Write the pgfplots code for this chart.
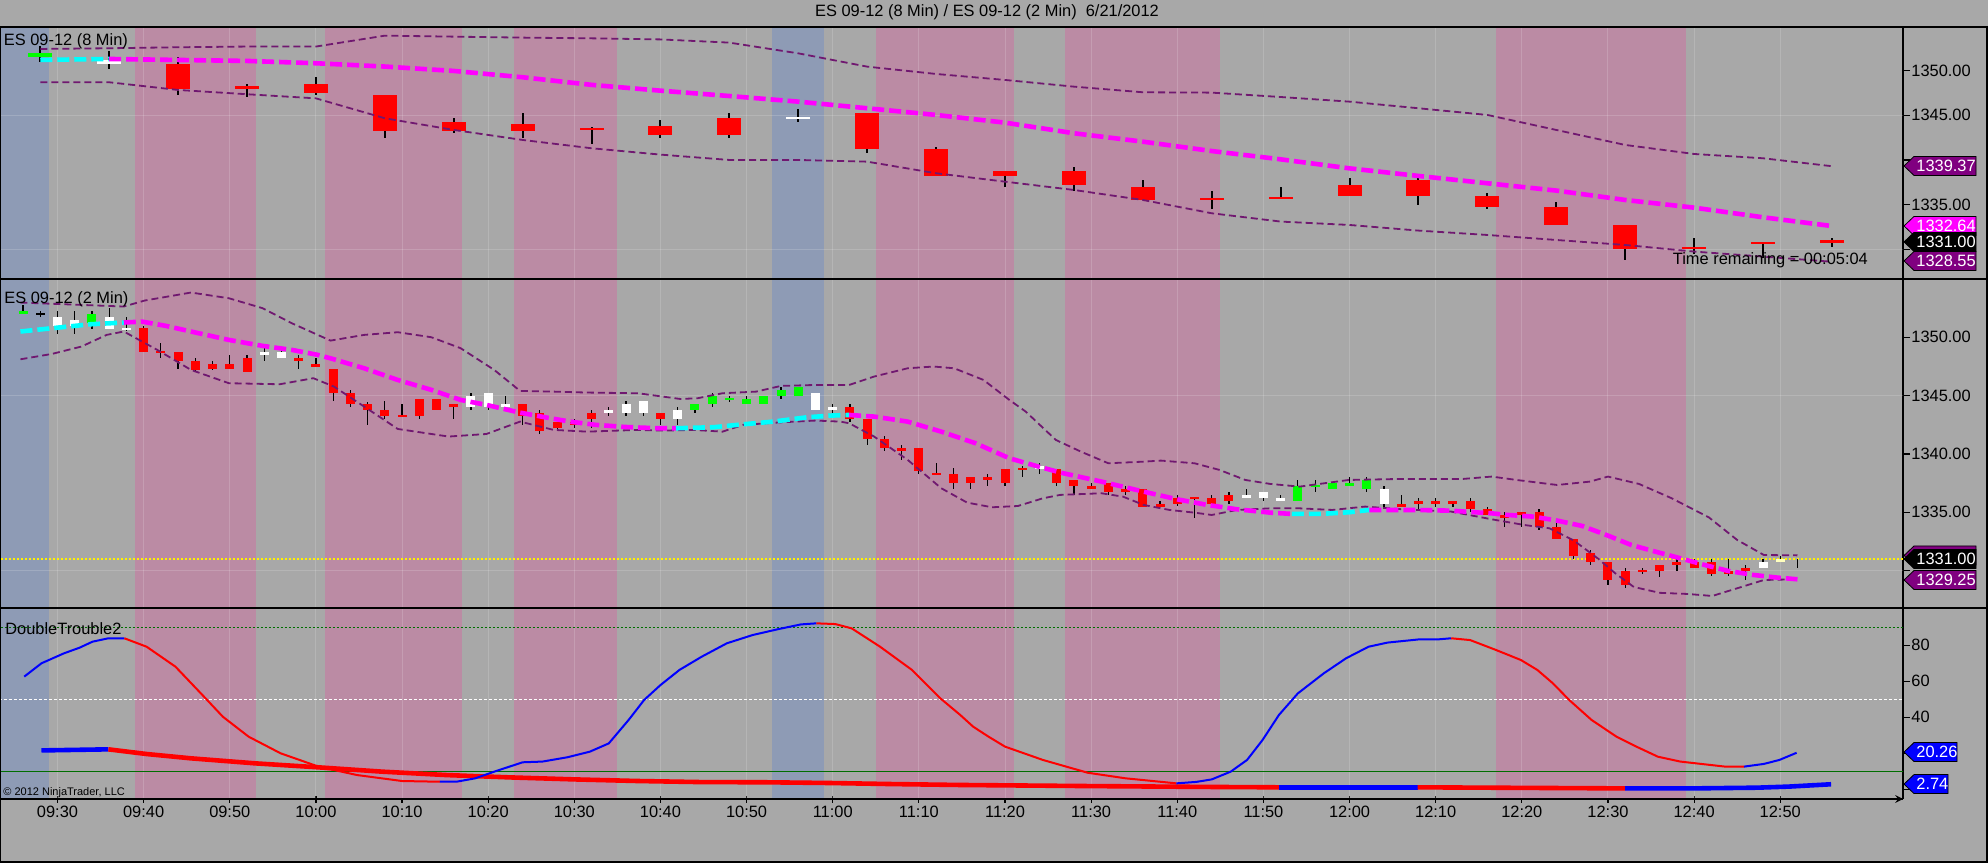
\documentclass[border=0pt]{standalone}
\usepackage{fontspec}
\setmainfont{Liberation Sans}
\usepackage{pgfplots}
\pgfplotsset{compat=1.18}
\usepackage{pgfplotstable}

\definecolor{bg}{RGB}{168,168,168}
\definecolor{pinkb}{RGB}{187,139,164}
\definecolor{blueb}{RGB}{142,155,181}
\definecolor{purp}{RGB}{112,24,112}
\definecolor{fpurple}{RGB}{128,0,128}
\definecolor{mag}{RGB}{255,0,255}
\definecolor{cya}{RGB}{0,255,255}
\definecolor{grn}{RGB}{0,255,0}
\definecolor{dgreen}{RGB}{0,110,0}
\definecolor{ylw}{RGB}{255,255,190}

\newcommand\lab{\fontsize{8.2pt}{9pt}\selectfont}

% ---------- 8-min candles (top panel): m open high low close ----------
\pgfplotstableread{
m o h l c
14 1350.75 1351.5 1347.25 1348.0
22 1348.25 1348.5 1347.0 1348.0
30 1348.5 1349.25 1347.25 1347.5
38 1347.25 1347.25 1342.5 1343.25
46 1344.25 1344.75 1343.0 1343.25
54 1344.0 1345.25 1342.5 1343.25
62 1343.5 1343.75 1341.75 1343.5
70 1343.75 1344.5 1342.5 1342.75
78 1344.75 1345.25 1342.5 1342.75
94 1345.25 1345.25 1340.75 1341.25
102 1341.25 1341.5 1338.25 1338.25
110 1338.75 1338.75 1337.0 1338.25
118 1338.75 1339.25 1336.5 1337.25
126 1337.0 1337.75 1335.5 1335.5
134 1335.75 1336.5 1334.5 1335.5
142 1335.75 1337.0 1335.75 1335.75
150 1337.25 1338.0 1336.0 1336.0
158 1337.75 1338.0 1335.0 1336.0
166 1336.0 1336.25 1334.5 1334.75
174 1334.75 1335.25 1332.75 1332.75
182 1332.75 1332.75 1328.75 1330.0
190 1330.25 1331.25 1329.5 1330.0
198 1330.75 1330.75 1329.0 1330.75
206 1331.0 1331.25 1330.25 1330.75
}\topred
\pgfplotstableread{
m o h l c
6 1350.75 1352.25 1350.25 1351.25
86 1344.75 1345.75 1344.25 1344.75
}\topwhite
\pgfplotstableread{
m o h l c
-2 1351.5 1352.75 1351.0 1352.0
}\topgreen

% ---------- 2-min candles (middle panel) ----------
\pgfplotstableread{
m o h l c
10 1350.75 1351.0 1348.75 1348.75
12 1348.75 1349.5 1348.25 1348.75
14 1348.75 1348.75 1347.25 1348.0
16 1348.0 1348.25 1347.0 1347.25
18 1347.75 1348.0 1347.25 1347.25
20 1347.75 1348.5 1347.25 1347.25
22 1348.25 1348.5 1347.0 1347.0
28 1348.25 1348.5 1347.25 1348.0
30 1347.75 1348.25 1347.5 1347.5
32 1347.25 1347.25 1344.5 1345.25
34 1345.25 1345.5 1344.0 1344.25
36 1344.25 1344.5 1342.5 1343.75
38 1343.75 1344.5 1343.0 1343.25
40 1343.25 1344.25 1343.25 1343.25
42 1344.75 1344.75 1343.0 1343.25
44 1344.75 1344.75 1343.75 1343.75
46 1344.25 1344.25 1343.0 1344.0
54 1344.25 1344.25 1342.5 1343.25
56 1343.5 1343.75 1341.75 1342.0
58 1342.75 1342.75 1342.0 1342.25
60 1342.75 1343.0 1342.25 1342.5
62 1343.5 1343.75 1342.25 1343.0
70 1343.5 1343.5 1342.5 1343.0
92 1344.0 1344.25 1342.75 1343.0
94 1343.0 1343.0 1340.75 1341.25
96 1341.25 1341.5 1340.25 1340.5
98 1340.5 1340.75 1339.5 1340.25
100 1340.5 1340.5 1338.25 1338.5
102 1338.25 1339.25 1338.25 1338.25
104 1338.25 1338.75 1337.0 1337.5
106 1338.0 1338.0 1337.0 1337.5
108 1338.0 1338.25 1337.25 1337.75
110 1338.75 1338.75 1337.25 1337.5
112 1338.75 1339.0 1338.0 1338.75
116 1338.75 1338.75 1337.25 1337.5
118 1337.75 1337.75 1336.5 1337.25
120 1337.25 1337.5 1337.0 1337.0
122 1337.5 1337.5 1336.5 1336.75
124 1337.0 1337.25 1336.5 1336.75
126 1337.0 1337.0 1335.5 1335.5
128 1335.75 1336.0 1335.5 1335.5
130 1336.25 1336.5 1335.5 1335.75
132 1336.25 1336.25 1334.5 1336.25
134 1336.25 1336.5 1335.5 1335.75
136 1336.5 1336.75 1335.75 1336.0
156 1335.75 1336.5 1335.5 1335.5
158 1336.0 1336.25 1335.25 1335.75
160 1336.0 1336.25 1335.5 1335.75
162 1336.0 1336.0 1335.5 1335.75
164 1336.0 1336.25 1335.0 1335.25
166 1335.25 1335.5 1334.75 1334.75
168 1334.75 1335.0 1333.75 1334.5
170 1335.0 1335.0 1333.75 1334.75
172 1335.0 1335.25 1333.5 1333.75
174 1333.75 1334.25 1332.75 1332.75
176 1332.75 1332.75 1331.0 1331.25
178 1331.5 1331.75 1330.5 1330.75
180 1330.75 1330.75 1328.75 1329.25
182 1330.0 1330.25 1328.5 1328.75
184 1330.0 1330.25 1329.75 1330.0
186 1330.5 1330.5 1329.5 1330.0
188 1330.75 1331.25 1330.0 1330.5
190 1330.75 1331.0 1330.25 1330.25
192 1330.75 1331.0 1329.5 1329.75
194 1330.0 1331.0 1329.5 1329.75
196 1330.25 1330.5 1329.25 1330.0
}\midred
\pgfplotstableread{
m o h l c
0 1351.0 1352.25 1350.25 1351.75
2 1351.0 1352.25 1350.25 1351.5
6 1350.75 1352.5 1350.75 1351.75
8 1350.75 1351.75 1350.5 1350.75
24 1348.5 1349.25 1348.0 1348.75
26 1348.25 1349.25 1348.25 1348.75
48 1344.0 1345.25 1343.75 1345.0
50 1344.0 1345.25 1343.75 1345.25
52 1344.0 1345.0 1343.75 1344.25
64 1343.5 1344.0 1343.25 1343.75
66 1343.5 1344.5 1343.25 1344.25
68 1343.5 1344.5 1343.25 1344.5
72 1343.0 1344.0 1342.5 1343.75
88 1343.75 1345.25 1343.75 1345.25
90 1343.75 1344.25 1343.5 1344.0
114 1338.75 1339.25 1338.25 1339.0
138 1336.25 1337.0 1336.25 1336.5
140 1336.25 1336.75 1336.0 1336.75
142 1336.0 1336.5 1336.0 1336.25
154 1335.75 1337.25 1335.5 1337.0
198 1330.25 1331.0 1330.25 1330.75
}\midwhite
\pgfplotstableread{
m o h l c
-4 1352.0 1352.75 1352.0 1352.25
4 1351.25 1352.25 1350.75 1352.0
74 1343.75 1344.25 1343.5 1344.25
76 1344.25 1345.25 1344.0 1345.0
78 1344.75 1345.0 1344.5 1344.75
80 1344.25 1345.0 1344.25 1344.75
82 1344.25 1345.0 1344.25 1345.0
84 1345.0 1345.75 1344.75 1345.5
86 1345.0 1345.75 1345.0 1345.75
144 1336.0 1337.75 1336.0 1337.25
146 1337.25 1337.75 1336.75 1337.25
148 1337.0 1337.5 1337.0 1337.5
150 1337.25 1338.0 1337.25 1337.5
152 1337.0 1338.0 1336.75 1337.75
}\midgreen
\pgfplotstableread{
m o h l c
200 1330.75 1331.25 1330.75 1331.0
}\midyellow
\pgfplotstableread{
m o h l c
-2 1352.0 1352.25 1351.75 1352.0
}\midblack

% candles: table, body colour, body width, wick width, minimum body
\newcommand\candles[5]{%
 \addplot[draw=none, mark=none, forget plot,
   error bars/.cd, y dir=both, y explicit, error mark=none,
   error bar style={line width=#4, draw=black}]
   table[x=m, y expr={(\thisrow{h}+\thisrow{l})/2}, y error expr={(\thisrow{h}-\thisrow{l})/2}] {#1};
 \addplot[draw=none, mark=none, forget plot,
   error bars/.cd, y dir=both, y explicit, error mark=none,
   error bar style={line width=#3, draw=#2}]
   table[x=m, y expr={(\thisrow{o}+\thisrow{c})/2}, y error expr={max(abs(\thisrow{c}-\thisrow{o}),#5)/2}] {#1};
}
% session bands and vertical grid
\newcommand\bands[2]{%
 \addplot[fill=blueb, draw=none, forget plot] coordinates {(-8,#1) (-8,#2) (-1,#2) (-1,#1)};
 \addplot[fill=pinkb, draw=none, forget plot] coordinates {(9,#1) (9,#2) (23,#2) (23,#1)};
 \addplot[fill=pinkb, draw=none, forget plot] coordinates {(31,#1) (31,#2) (47,#2) (47,#1)};
 \addplot[fill=pinkb, draw=none, forget plot] coordinates {(53,#1) (53,#2) (65,#2) (65,#1)};
 \addplot[fill=blueb, draw=none, forget plot] coordinates {(83,#1) (83,#2) (89,#2) (89,#1)};
 \addplot[fill=pinkb, draw=none, forget plot] coordinates {(95,#1) (95,#2) (111,#2) (111,#1)};
 \addplot[fill=pinkb, draw=none, forget plot] coordinates {(117,#1) (117,#2) (135,#2) (135,#1)};
 \addplot[fill=pinkb, draw=none, forget plot] coordinates {(167,#1) (167,#2) (189,#2) (189,#1)};
 \pgfplotsinvokeforeach{0,10,...,200}{\addplot[draw=white, draw opacity=0.16, line width=0.5pt, forget plot] coordinates {(##1,#1) (##1,#2)};}
}

\pgfplotsset{
 panel/.style={
  scale only axis, width=951.5pt, anchor=south west,
  xmin=-6.675, xmax=214.25,
  axis y line=right,
  axis line style={-, black, line width=0.7pt},
  x axis line style={-}, y axis line style={-},
  tick align=outside, major tick length=3.5pt,
  tick style={black, line width=0.6pt},
  yticklabel style={font=\lab, inner sep=0pt, xshift=0.5pt},
 },
 bandl/.style={purp, line width=0.9pt, dash pattern=on 3.5pt off 2pt, forget plot},
 mavg/.style={mag, line width=2.3pt, dash pattern=on 6pt off 2.5pt, forget plot},
 cavg/.style={cya, line width=2.3pt, dash pattern=on 6pt off 2.5pt, forget plot},
}

% flag: coordinate, fill, text, rectangle width
\newcommand\flag[4]{%
 \filldraw[fill=#2, draw=black, line width=0.4pt] ([xshift=0.5pt]#1) -- ++(5pt,4.75pt) -- ++(#4,0) -- ++(0,-9.5pt) -- ++(-#4,0) -- cycle;
 \node[anchor=west, inner sep=0pt, text=white, font=\lab] at ([xshift=6.5pt]#1) {#3};
}

\begin{document}
\begin{tikzpicture}
\fill[bg] (0,0) rectangle (994pt,431.5pt);

% ================= TOP PANEL (8 min) =================
\begin{axis}[panel, at={(0pt,292pt)}, height=126pt, axis x line=none,
  ymin=1326.67, ymax=1354.89,
  ytick={1330,1335,1340,1345,1350},
  yticklabels={,1335.00,,1345.00,1350.00}]
\bands{1320}{1360}
\addplot[draw=white, draw opacity=0.16, line width=0.5pt, forget plot] coordinates {(-8,1345) (216,1345)};
\addplot[draw=white, draw opacity=0.16, line width=0.5pt, forget plot] coordinates {(-8,1330) (216,1330)};
\candles{\topred}{red}{12pt}{1pt}{0.22}
\candles{\topwhite}{white}{12pt}{1pt}{0.22}
\candles{\topgreen}{grn}{12pt}{1pt}{0.22}
\addplot[bandl] coordinates {(-2,1352.43)(6,1352.51)(14,1352.62)(22,1352.7)(30,1352.7)(38,1353.92)(46,1353.81)(54,1353.7)(62,1353.62)(70,1353.5)(78,1353.14)(86,1351.94)(94,1350.45)(102,1349.63)(110,1348.96)(118,1348.21)(126,1347.58)(134,1347.54)(142,1347.05)(150,1346.53)(158,1345.79)(166,1345.04)(174,1343.36)(182,1341.68)(190,1340.67)(198,1340.19)(206,1339.3)};
\addplot[bandl] coordinates {(-2,1348.7)(6,1348.7)(14,1347.84)(22,1347.36)(30,1346.9)(38,1344.67)(46,1343.36)(54,1342.24)(62,1341.31)(70,1340.6)(78,1340.0)(86,1340.0)(94,1339.81)(102,1338.51)(110,1337.57)(118,1336.64)(126,1335.52)(134,1334.03)(142,1333.1)(150,1332.72)(158,1332.09)(166,1331.6)(174,1331.04)(182,1330.48)(190,1329.74)(198,1329.18)(206,1328.6)};
\addplot[cavg] coordinates {(-2,1351.2)(6,1351.31)};
\addplot[mavg] coordinates {(6,1351.31)(14,1351.2)(22,1351.09)(30,1350.83)(38,1350.46)(46,1349.97)(54,1349.26)(62,1348.41)(70,1347.76)(78,1347.16)(86,1346.53)(94,1345.79)(102,1345.04)(110,1344.18)(118,1342.99)(126,1342.05)(134,1341.0)(142,1340.07)(150,1339.06)(158,1338.21)(166,1337.39)(174,1336.57)(182,1335.52)(190,1334.66)(198,1333.58)(206,1332.6)};
\coordinate (f1) at (axis cs:214.25,1339.33);
\coordinate (f2) at (axis cs:214.25,1332.61);
\coordinate (f3) at (axis cs:214.25,1330.82);
\coordinate (f4) at (axis cs:214.25,1328.69);
\end{axis}

% ================= MIDDLE PANEL (2 min) =================
\begin{axis}[panel, at={(0pt,127.5pt)}, height=164.5pt, axis x line=none,
  ymin=1326.80, ymax=1354.99,
  ytick={1330,1335,1340,1345,1350},
  yticklabels={,1335.00,1340.00,1345.00,1350.00}]
\bands{1320}{1360}
\addplot[draw=white, draw opacity=0.16, line width=0.5pt, forget plot] coordinates {(-8,1345) (216,1345)};
\addplot[draw=white, draw opacity=0.16, line width=0.5pt, forget plot] coordinates {(-8,1330) (216,1330)};
\addplot[yellow, line width=0.7pt, dash pattern=on 1pt off 1pt, forget plot] coordinates {(-8,1331) (216,1331)};
\candles{\midred}{red}{4.5pt}{0.6pt}{0.17}
\candles{\midwhite}{white}{4.5pt}{0.6pt}{0.17}
\candles{\midgreen}{grn}{4.5pt}{0.6pt}{0.17}
\candles{\midyellow}{ylw}{4.5pt}{0.6pt}{0.17}
\candles{\midblack}{black}{4.5pt}{0.6pt}{0.12}
\addplot[black, line width=0.6pt, forget plot] coordinates {(202,1331.0) (202,1330.25)};
\addplot[bandl] coordinates {(-4.3,1352.97)(7.7,1352.63)(10.1,1353.14)(15.5,1353.83)(19.9,1353.34)(23.8,1352.49)(27.2,1351.2)(31.7,1349.71)(35.6,1350.2)(39.5,1350.43)(43.4,1350.0)(46.8,1349.06)(50.7,1347.2)(53.7,1345.4)(57.6,1345.34)(61.5,1345.26)(67.4,1345.2)(72.3,1344.71)(74.3,1344.77)(77.2,1345.2)(81.1,1345.34)(84.0,1345.83)(88.0,1345.91)(91.9,1345.91)(94.8,1346.63)(98.7,1347.34)(101.7,1347.49)(104.1,1347.34)(107.5,1346.34)(110.5,1344.63)(112.4,1343.63)(115.9,1341.2)(118.8,1340.2)(122.0,1339.2)(126.1,1339.34)(128.1,1339.43)(132.0,1339.2)(134.9,1338.63)(137.9,1337.77)(140.8,1337.43)(144.2,1337.2)(145.6,1337.34)(149.9,1337.77)(156.1,1337.86)(163.2,1337.86)(166.5,1338.06)(169.4,1337.77)(174.1,1337.34)(177.9,1337.63)(180.0,1338.06)(183.6,1337.43)(187.4,1336.2)(191.7,1334.57)(195.0,1332.63)(198.1,1331.34)(202.0,1331.31)};
\addplot[bandl] coordinates {(-4.3,1348.11)(-0.65,1348.57)(2.78,1349.2)(5.7,1350.2)(7.7,1350.49)(11.6,1348.91)(15.5,1347.2)(19.9,1346.06)(25.8,1345.97)(29.7,1346.49)(32.1,1345.77)(35.6,1344.06)(39.5,1342.14)(45.4,1341.49)(49.8,1341.71)(53.7,1342.77)(57.6,1342.06)(61.5,1341.91)(67.4,1342.06)(70.3,1342.0)(73.8,1342.06)(77.2,1341.91)(79.6,1342.49)(83.6,1342.69)(88.0,1342.86)(90.9,1342.77)(91.9,1342.63)(94.8,1341.49)(98.7,1339.49)(102.6,1337.06)(105.6,1335.83)(108.5,1335.43)(111.5,1335.54)(114.4,1336.2)(116.4,1336.49)(121.2,1336.63)(123.7,1336.34)(126.1,1335.63)(129.1,1335.2)(132.0,1334.97)(134.0,1334.77)(136.9,1335.2)(140.8,1335.34)(144.2,1335.34)(148.0,1335.2)(151.8,1335.49)(156.1,1335.26)(161.8,1335.06)(166.5,1334.4)(170.3,1333.91)(173.2,1333.63)(176.0,1332.6)(178.9,1331.0)(180.8,1329.8)(183.0,1328.6)(186.0,1328.1)(189.3,1328.0)(192.1,1327.83)(195.0,1328.49)(198.1,1329.2)(202.0,1329.26)};
\addplot[cavg] coordinates {(-4.3,1350.49)(-0.65,1350.77)(3.8,1351.11)(7.7,1351.26)};
\addplot[mavg] coordinates {(7.7,1351.26)(9.8,1351.34)(12.6,1350.97)(15.5,1350.49)(19.9,1349.77)(23.8,1349.26)(27.25,1348.91)(30.2,1348.49)(32.1,1348.11)(35.6,1347.34)(39.5,1346.34)(43.4,1345.49)(46.8,1344.63)(49.8,1344.2)(53.7,1343.54)(56.6,1343.14)(59.5,1342.77)(62.5,1342.49)(65.9,1342.31)(69.7,1342.2)(71.8,1342.2)};
\addplot[cavg] coordinates {(71.8,1342.2)(76.2,1342.29)(79.6,1342.54)(83.1,1342.77)(87.0,1343.14)(89.9,1343.29)(91.9,1343.34)};
\addplot[mavg] coordinates {(91.9,1343.34)(94.8,1343.2)(98.7,1342.77)(102.6,1341.91)(106.6,1340.91)(110.5,1339.63)(113.9,1338.91)(116.8,1338.34)(121.2,1337.63)(126.1,1336.77)(130.0,1336.11)(133.5,1335.63)(136.9,1335.26)(140.8,1334.97)(143.3,1334.86)};
\addplot[cavg] coordinates {(143.3,1334.86)(146.6,1334.86)(149.9,1335.0)(152.3,1335.2)};
\addplot[mavg] coordinates {(152.3,1335.2)(154.2,1335.2)(157.5,1335.2)(161.8,1335.14)(164.6,1335.0)(166.5,1334.91)(168.4,1334.77)(171.3,1334.63)(174.1,1334.29)(177.0,1333.83)(179.8,1333.06)(182.7,1332.2)(185.5,1331.63)(188.4,1331.06)(191.2,1330.49)(194.0,1329.97)(196.9,1329.63)(199.7,1329.4)(202.0,1329.26)};
\coordinate (g0) at (axis cs:214.25,1331.30);
\coordinate (g1) at (axis cs:214.25,1331.0);
\coordinate (g2) at (axis cs:214.25,1329.20);
\end{axis}

% ================= BOTTOM PANEL (DoubleTrouble2) =================
\begin{axis}[panel, at={(0pt,32pt)}, height=95.5pt,
  ymin=-5.39, ymax=100.72,
  ytick={0,20,40,60,80}, yticklabels={,,40,60,80},
  axis x line=bottom,
  xtick={0,10,...,200},
  xticklabels={09:30,09:40,09:50,10:00,10:10,10:20,10:30,10:40,10:50,11:00,11:10,11:20,11:30,11:40,11:50,12:00,12:10,12:20,12:30,12:40,12:50},
  xticklabel style={font=\lab, inner sep=0pt, yshift=-1.5pt}]
\bands{-10}{110}
\addplot[dgreen, line width=0.6pt, dash pattern=on 1pt off 1pt, forget plot] coordinates {(-8,90) (216,90)};
\addplot[white, line width=0.6pt, dash pattern=on 1.5pt off 1pt, forget plot] coordinates {(-8,50) (216,50)};
\addplot[dgreen, line width=0.6pt, forget plot] coordinates {(-8,10) (216,10)};
% slow line (thick)
\addplot[blue, line width=2.3pt, forget plot] coordinates {(-1.86,21.6)(5.91,22.2)};
\addplot[red, line width=2.3pt, forget plot] coordinates {(5.91,22.2)(10.35,19.6)(15.5,17.2)(23.0,14.4)(30.3,12.2)(37.7,9.8)(45.2,7.9)(52.6,6.6)(60.0,5.5)(67.4,4.6)(74.8,4.0)(82.2,3.9)(89.6,3.5)(97.0,2.9)(104.8,2.4)(119.6,1.8)(134.0,1.3)(141.8,1.1)};
\addplot[blue, line width=2.3pt, forget plot] coordinates {(141.8,1.1)(157.9,1.1)};
\addplot[red, line width=2.3pt, forget plot] coordinates {(157.9,1.1)(170,0.8)(182.0,0.5)};
\addplot[blue, line width=2.3pt, forget plot] coordinates {(182.0,0.5)(189.9,0.5)(197.3,0.9)(201.0,1.5)(205.9,2.8)};
% fast line (thin)
\addplot[blue, line width=1pt, line join=round, forget plot] coordinates {(-3.86,62.6)(-1.86,70.0)(0.73,75.5)(2.58,78.7)(4.06,82.0)(5.91,83.9)(7.76,83.9)};
\addplot[red, line width=1pt, line join=round, forget plot] coordinates {(7.76,83.9)(10.35,79.2)(13.7,68.1)(17.0,51.5)(19.2,40.3)(22.2,29.2)(25.9,20.0)(30.3,12.6)(34.8,7.9)(40.0,4.6)(44.4,4.2)};
\addplot[blue, line width=1pt, line join=round, forget plot] coordinates {(44.4,4.2)(46.3,4.2)(48.5,6.1)(50.7,9.8)(54.0,15.0)(56.3,15.4)(59.2,17.8)(61.8,20.9)(64.0,25.5)(66.3,38.5)(68.1,49.6)(70.0,57.9)(72.2,66.3)(74.8,73.7)(77.7,81.1)(80.7,85.7)(83.7,89.0)(86.3,91.6)(88.1,92.2)};
\addplot[red, line width=1pt, line join=round, forget plot] coordinates {(88.1,92.2)(90.3,91.8)(92.2,89.4)(95.5,79.2)(99.2,66.3)(102.5,50.5)(104.8,41.3)(106.3,34.8)(108.0,29.5)(110.0,23.7)(114.4,16.3)(119.6,9.2)(124.0,6.1)(129.9,3.3)};
\addplot[blue, line width=1pt, line join=round, forget plot] coordinates {(129.9,3.3)(132.2,4.1)(134.0,5.5)(136.2,9.8)(138.1,16.3)(139.9,27.4)(141.8,41.3)(144.0,53.3)(147.0,64.4)(149.6,72.8)(152.2,79.2)(154.4,81.5)(158.1,83.3)(160.3,83.3)(161.8,83.9)};
\addplot[red, line width=1pt, line join=round, forget plot] coordinates {(161.8,83.9)(164.0,82.9)(167.0,77.4)(169.9,71.8)(171.8,66.3)(173.6,58.9)(175.5,49.6)(178.1,38.5)(181.0,29.2)(183.3,23.7)(185.8,18.1)(188.4,15.4)(193.6,12.6)(195.8,12.6)};
\addplot[blue, line width=1pt, line join=round, forget plot] coordinates {(195.8,12.6)(198.1,14.1)(199.9,16.3)(201.9,20.3)};
\coordinate (h1) at (axis cs:214.25,20.7);
\coordinate (h2) at (axis cs:214.25,2.9);
\end{axis}

% ----- price flags -----
\flag{f1}{fpurple}{1339.37}{31pt}
\flag{f2}{mag}{1332.64}{31pt}
\flag{f3}{black}{1331.00}{31pt}
\flag{f4}{fpurple}{1328.55}{31pt}
\flag{g0}{fpurple}{}{31pt}
\flag{g1}{black}{1331.00}{31pt}
\flag{g2}{fpurple}{1329.25}{31pt}
\flag{h1}{blue}{20.26}{21.5pt}
\flag{h2}{blue}{2.74}{17pt}

% ----- frame and texts (pixel coordinates) -----
\begin{scope}[shift={(0pt,431.5pt)}, x=0.5pt, y=-0.5pt]
\draw[black, line width=0.7pt] (0,27) -- (1988,27);
\draw[black, line width=0.7pt] (0,279) -- (1988,279);
\draw[black, line width=0.7pt] (0,608) -- (1988,608);
\draw[black, line width=0.7pt] (0,799) -- (1903,799);
\draw[black, line width=0.7pt] (1987,27) -- (1987,862) -- (0,862);
\draw[black, line width=0.7pt] (0.6,27) -- (0.6,862);
\node[font=\lab, inner sep=0pt] at (987,12.5) {ES 09-12 (8 Min) / ES 09-12 (2 Min)\ \ 6/21/2012};
\node[font=\lab, inner sep=0pt, anchor=west] at (3.5,41.5) {ES 09-12 (8 Min)};
\node[font=\lab, inner sep=0pt, anchor=west] at (4,299.5) {ES 09-12 (2 Min)};
\node[font=\lab, inner sep=0pt, anchor=west] at (1672.5,260) {Time remaining = 00:05:04};
\node[font=\lab, inner sep=0pt, anchor=west] at (5,629) {DoubleTrouble2};
\node[font=\fontsize{5.5pt}{6pt}\selectfont, inner sep=0pt, anchor=west] at (3,793) {© 2012 NinjaTrader, LLC};
\end{scope}
\pgfresetboundingbox
\useasboundingbox (0,0) rectangle (994pt,431.5pt);
\end{tikzpicture}
\end{document}
